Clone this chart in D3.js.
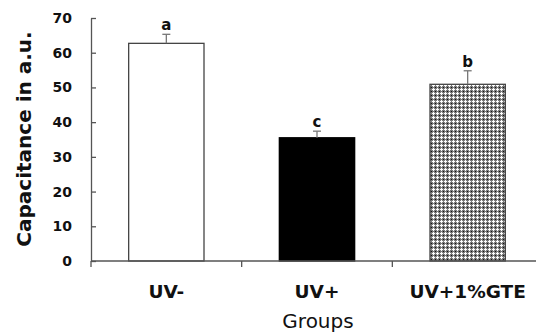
<!DOCTYPE html>
<html>
<head>
<meta charset="utf-8">
<script src="https://cdn.jsdelivr.net/npm/d3@7"></script>
<style>
  body { margin: 0; background: #fff; }
  svg { display: block; }
  text { font-family: Tahoma, "DejaVu Sans", sans-serif; }
</style>
</head>
<body>
<div class="chart-container"></div>
<script>
//! DATA
const groups = ['UV-', 'UV+', 'UV+1%GTE'];
const means = [62.7, 35.5, 50.9];
const errors = [2.6, 1.9, 3.9];
const letters = ['a', 'c', 'b'];
const yTicks = [0, 10, 20, 30, 40, 50, 60, 70];

//! CONSTS
const width = 536;
const height = 333;
const margin = { left: 91, right: 0, top: 18, bottom: 72 };

const svg = d3.select('.chart-container')
  .append('svg')
  .attr('width', width)
  .attr('height', height);

// crosshatch fill for the last bar
const defs = svg.append('defs');
const pat = defs.append('pattern')
  .attr('id', 'hatch')
  .attr('patternUnits', 'userSpaceOnUse')
  .attr('width', 4)
  .attr('height', 4);
pat.append('rect').attr('width', 4).attr('height', 4).attr('fill', '#7a7a7a');
pat.append('rect').attr('x', 1).attr('y', 0).attr('width', 1).attr('height', 3).attr('fill', '#fff');
pat.append('rect').attr('x', 0).attr('y', 1).attr('width', 3).attr('height', 1).attr('fill', '#fff');
pat.append('rect').attr('x', 3).attr('y', 3).attr('width', 1).attr('height', 1).attr('fill', '#111');

const fills = ['#fff', '#000', 'url(#hatch)'];

//! SCALES
const xScale = d3.scaleBand()
  .domain(groups)
  .range([margin.left, margin.left + 452])
  .paddingInner(0)
  .paddingOuter(0);

const yScale = d3.scaleLinear()
  .domain([0, 70])
  .range([height - margin.bottom, margin.top]);

const y0 = yScale(0);
const barW = xScale.bandwidth() * 0.5;

//! BARS
svg.selectAll('rect.bar')
  .data(groups)
  .enter()
  .append('rect')
  .attr('class', 'bar')
  .attr('x', d => xScale(d) + (xScale.bandwidth() - barW) / 2)
  .attr('y', (d, i) => yScale(means[i]))
  .attr('width', barW)
  .attr('height', (d, i) => y0 - yScale(means[i]))
  .attr('fill', (d, i) => fills[i])
  .attr('stroke', (d, i) => i === 1 ? '#000' : '#444')
  .attr('stroke-width', 1.3);

//! ERROR BARS (upper only)
const err = svg.selectAll('g.err')
  .data(groups)
  .enter()
  .append('g')
  .attr('class', 'err')
  .attr('stroke', '#777')
  .attr('stroke-width', 1.3);

err.append('line')
  .attr('x1', d => xScale(d) + xScale.bandwidth() / 2)
  .attr('x2', d => xScale(d) + xScale.bandwidth() / 2)
  .attr('y1', (d, i) => yScale(means[i]))
  .attr('y2', (d, i) => yScale(means[i] + errors[i]));

err.append('line')
  .attr('x1', d => xScale(d) + xScale.bandwidth() / 2 - 4)
  .attr('x2', d => xScale(d) + xScale.bandwidth() / 2 + 4)
  .attr('y1', (d, i) => yScale(means[i] + errors[i]))
  .attr('y2', (d, i) => yScale(means[i] + errors[i]));

//! SIGNIFICANCE LETTERS
svg.selectAll('text.letter')
  .data(groups)
  .enter()
  .append('text')
  .attr('class', 'letter')
  .attr('x', d => xScale(d) + xScale.bandwidth() / 2)
  .attr('y', (d, i) => yScale(means[i] + errors[i]) - 4)
  .attr('text-anchor', 'middle')
  .attr('font-size', 15)
  .attr('font-weight', 'bold')
  .attr('fill', '#111')
  .text((d, i) => letters[i]);

//! AXES
const yAxis = d3.axisLeft(yScale)
  .tickValues(yTicks)
  .tickSize(-5)
  .tickPadding(19)
  .tickSizeOuter(0);

const gy = svg.append('g')
  .attr('transform', `translate(${margin.left},0)`)
  .call(yAxis);
gy.select('.domain').attr('stroke', '#555').attr('stroke-width', 1.3);
gy.selectAll('.tick line').attr('stroke', '#555').attr('stroke-width', 1.3);
gy.selectAll('.tick text')
  .attr('font-size', 14)
  .attr('font-weight', 'bold')
  .attr('fill', '#111')
  .style('font-family', 'Tahoma, "DejaVu Sans", sans-serif');

// x axis line runs to the right edge
svg.append('line')
  .attr('x1', margin.left)
  .attr('x2', width)
  .attr('y1', y0)
  .attr('y2', y0)
  .attr('stroke', '#555')
  .attr('stroke-width', 1.3);

svg.selectAll('line.xtick')
  .data(groups)
  .enter()
  .append('line')
  .attr('class', 'xtick')
  .attr('x1', d => xScale(d))
  .attr('x2', d => xScale(d))
  .attr('y1', y0)
  .attr('y2', y0 + 6)
  .attr('stroke', '#555')
  .attr('stroke-width', 1.3);

svg.selectAll('text.xlab')
  .data(groups)
  .enter()
  .append('text')
  .attr('class', 'xlab')
  .attr('x', d => xScale(d) + xScale.bandwidth() / 2)
  .attr('y', 298)
  .attr('text-anchor', 'middle')
  .attr('font-size', 18.5)
  .attr('font-weight', 'bold')
  .attr('fill', '#111')
  .text(d => d);

//! TITLES
svg.append('text')
  .attr('x', 318)
  .attr('y', 328)
  .attr('text-anchor', 'middle')
  .attr('font-size', 20)
  .attr('fill', '#111')
  .text('Groups');

svg.append('text')
  .attr('transform', `translate(31,139) rotate(-90)`)
  .attr('text-anchor', 'middle')
  .attr('font-size', 20)
  .attr('font-weight', 'bold')
  .attr('fill', '#111')
  .text('Capacitance in a.u.');
</script>
</body>
</html>
